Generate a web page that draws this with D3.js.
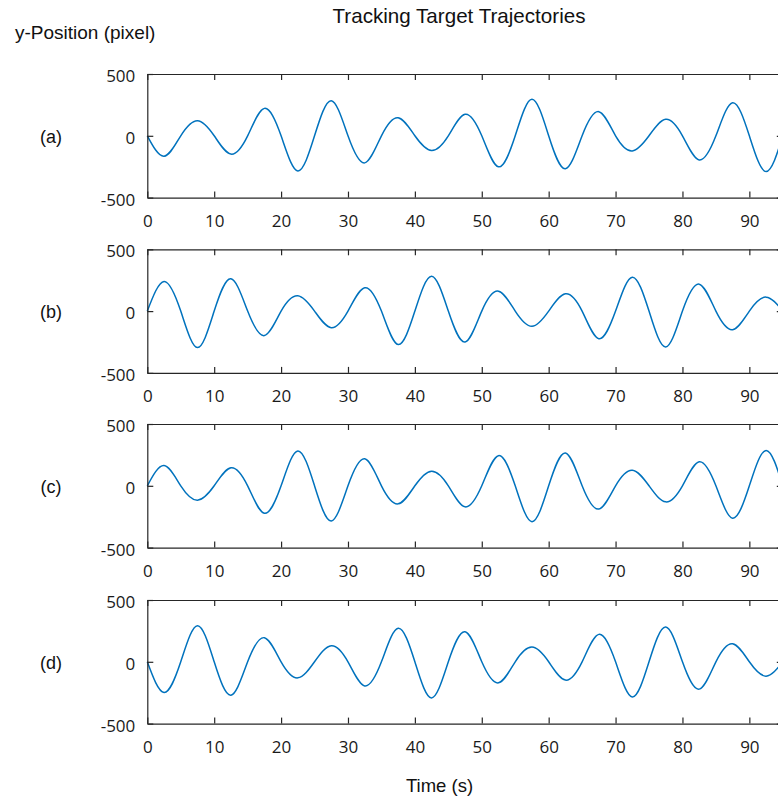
<!DOCTYPE html>
<html>
<head>
<meta charset="utf-8">
<script src="https://cdn.jsdelivr.net/npm/d3@7"></script>
<style>
  body { margin: 0; background: #fff; }
  svg { display: block; }
</style>
</head>
<body>
<div id="chart"></div>
<script>
// Sample times: zero crossings and extrema, every 2.5 s.
const times = [0, 2.5, 5, 7.5, 10, 12.5, 15, 17.5, 20, 22.5, 25, 27.5, 30, 32.5, 35, 37.5, 40, 42.5, 45, 47.5,
  50, 52.5, 55, 57.5, 60, 62.5, 65, 67.5, 70, 72.5, 75, 77.5, 80, 82.5, 85, 87.5, 90, 92.5, 95];

// Values (pixel).
const trajA = [0, -165, 0, 122, 0, -148, 0, 222, 0, -284, 0, 284, 0, -219, 0, 146, 0, -119, 0, 174,
  0, -251, 0, 295, 0, -267, 0, 195, 0, -122, 0, 133, 0, -195, 0, 268, 0, -289, 0];
const trajB = [0, 240, 0, -295, 0, 261, 0, -198, 0, 124, 0, -134, 0, 189, 0, -271, 0, 282, 0, -250,
  0, 161, 0, -123, 0, 140, 0, -223, 0, 274, 0, -290, 0, 218, 0, -150, 0, 113, 0];
const trajC = [0, 164, 0, -116, 0, 146, 0, -222, 0, 282, 0, -284, 0, 218, 0, -146, 0, 118, 0, -170,
  0, 244, 0, -290, 0, 266, 0, -188, 0, 126, 0, -130, 0, 194, 0, -262, 0, 286, 0];
const trajD = [0, -248, 0, 292, 0, -270, 0, 195, 0, -130, 0, 130, 0, -195, 0, 271, 0, -292, 0, 243,
  0, -170, 0, 119, 0, -148, 0, 222, 0, -284, 0, 281, 0, -221, 0, 146, 0, -116, 0];

const panelLabels = ["(a)", "(b)", "(c)", "(d)"];
const series = [trajA, trajB, trajC, trajD];
const xTicks = [0, 10, 20, 30, 40, 50, 60, 70, 80, 90];
const yTicks = [-500, 0, 500];

const width = 778, height = 797;
const left = 147.3, right = 782.8;
const panelTops = [74, 249.3, 424, 600];
const panelH = 123.6;

const fontTicks = "'Open Sans', sans-serif";
const fontText = "'Liberation Sans', Arial, sans-serif";
const axisColor = "#262626";

const svg = d3.select("#chart").append("svg")
  .attr("width", width)
  .attr("height", height);

const x = d3.scaleLinear().domain([0, 95]).range([left, right]);

// Title and axis labels
svg.append("text")
  .attr("x", 459).attr("y", 23)
  .attr("text-anchor", "middle")
  .style("font-family", fontText).style("font-size", "20.6px")
  .attr("fill", "#111")
  .text("Tracking Target Trajectories");

svg.append("text")
  .attr("x", 15).attr("y", 39)
  .style("font-family", fontText).style("font-size", "19px")
  .attr("fill", "#111")
  .text("y-Position (pixel)");

svg.append("text")
  .attr("x", 439.5).attr("y", 792)
  .attr("text-anchor", "middle")
  .style("font-family", fontText).style("font-size", "18.5px")
  .attr("fill", "#111")
  .text("Time (s)");

// Plain hyphen for negative labels, as in the original
const plain = d => String(d);

series.forEach(function(vals, i) {
  const top = panelTops[i];
  const y = d3.scaleLinear().domain([-500, 500]).range([top + panelH, top]);

  const g = svg.append("g");

  // Trajectory line
  const line = d3.line()
    .x((d, j) => x(times[j]))
    .y(d => y(d))
    .curve(d3.curveNatural);

  g.append("path")
    .datum(vals)
    .attr("d", line)
    .attr("fill", "none")
    .attr("stroke", "#0072BD")
    .attr("stroke-width", 1.5);

  // Box axes with inward ticks
  g.append("g")
    .attr("transform", "translate(0," + (top + panelH) + ")")
    .call(d3.axisBottom(x).tickValues(xTicks).tickSizeInner(-6).tickSizeOuter(0).tickPadding(17).tickFormat(plain));

  g.append("g")
    .attr("transform", "translate(0," + top + ")")
    .call(d3.axisTop(x).tickValues(xTicks).tickSizeInner(-6).tickSizeOuter(0).tickFormat(""));

  const leftAxis = g.append("g")
    .attr("transform", "translate(" + left + ",0)")
    .call(d3.axisLeft(y).tickValues(yTicks).tickSizeInner(-6).tickSizeOuter(0).tickPadding(12).tickFormat(plain));

  g.append("g")
    .attr("transform", "translate(" + right + ",0)")
    .call(d3.axisRight(y).tickValues(yTicks).tickSizeInner(-6).tickSizeOuter(0).tickFormat(""));

  g.selectAll(".domain, .tick line")
    .attr("stroke", axisColor)
    .attr("stroke-width", 1.2);

  g.selectAll(".tick text")
    .style("font-family", fontTicks)
    .style("font-size", "17px")
    .attr("fill", "#1a1a1a");

  leftAxis.selectAll(".tick text").attr("dy", "0.45em");

  // Panel label
  g.append("text")
    .attr("x", 51).attr("y", y(0))
    .attr("dy", "0.38em")
    .attr("text-anchor", "middle")
    .style("font-family", fontText).style("font-size", "18px")
    .attr("fill", "#111")
    .text(panelLabels[i]);
});
</script>
</body>
</html>
